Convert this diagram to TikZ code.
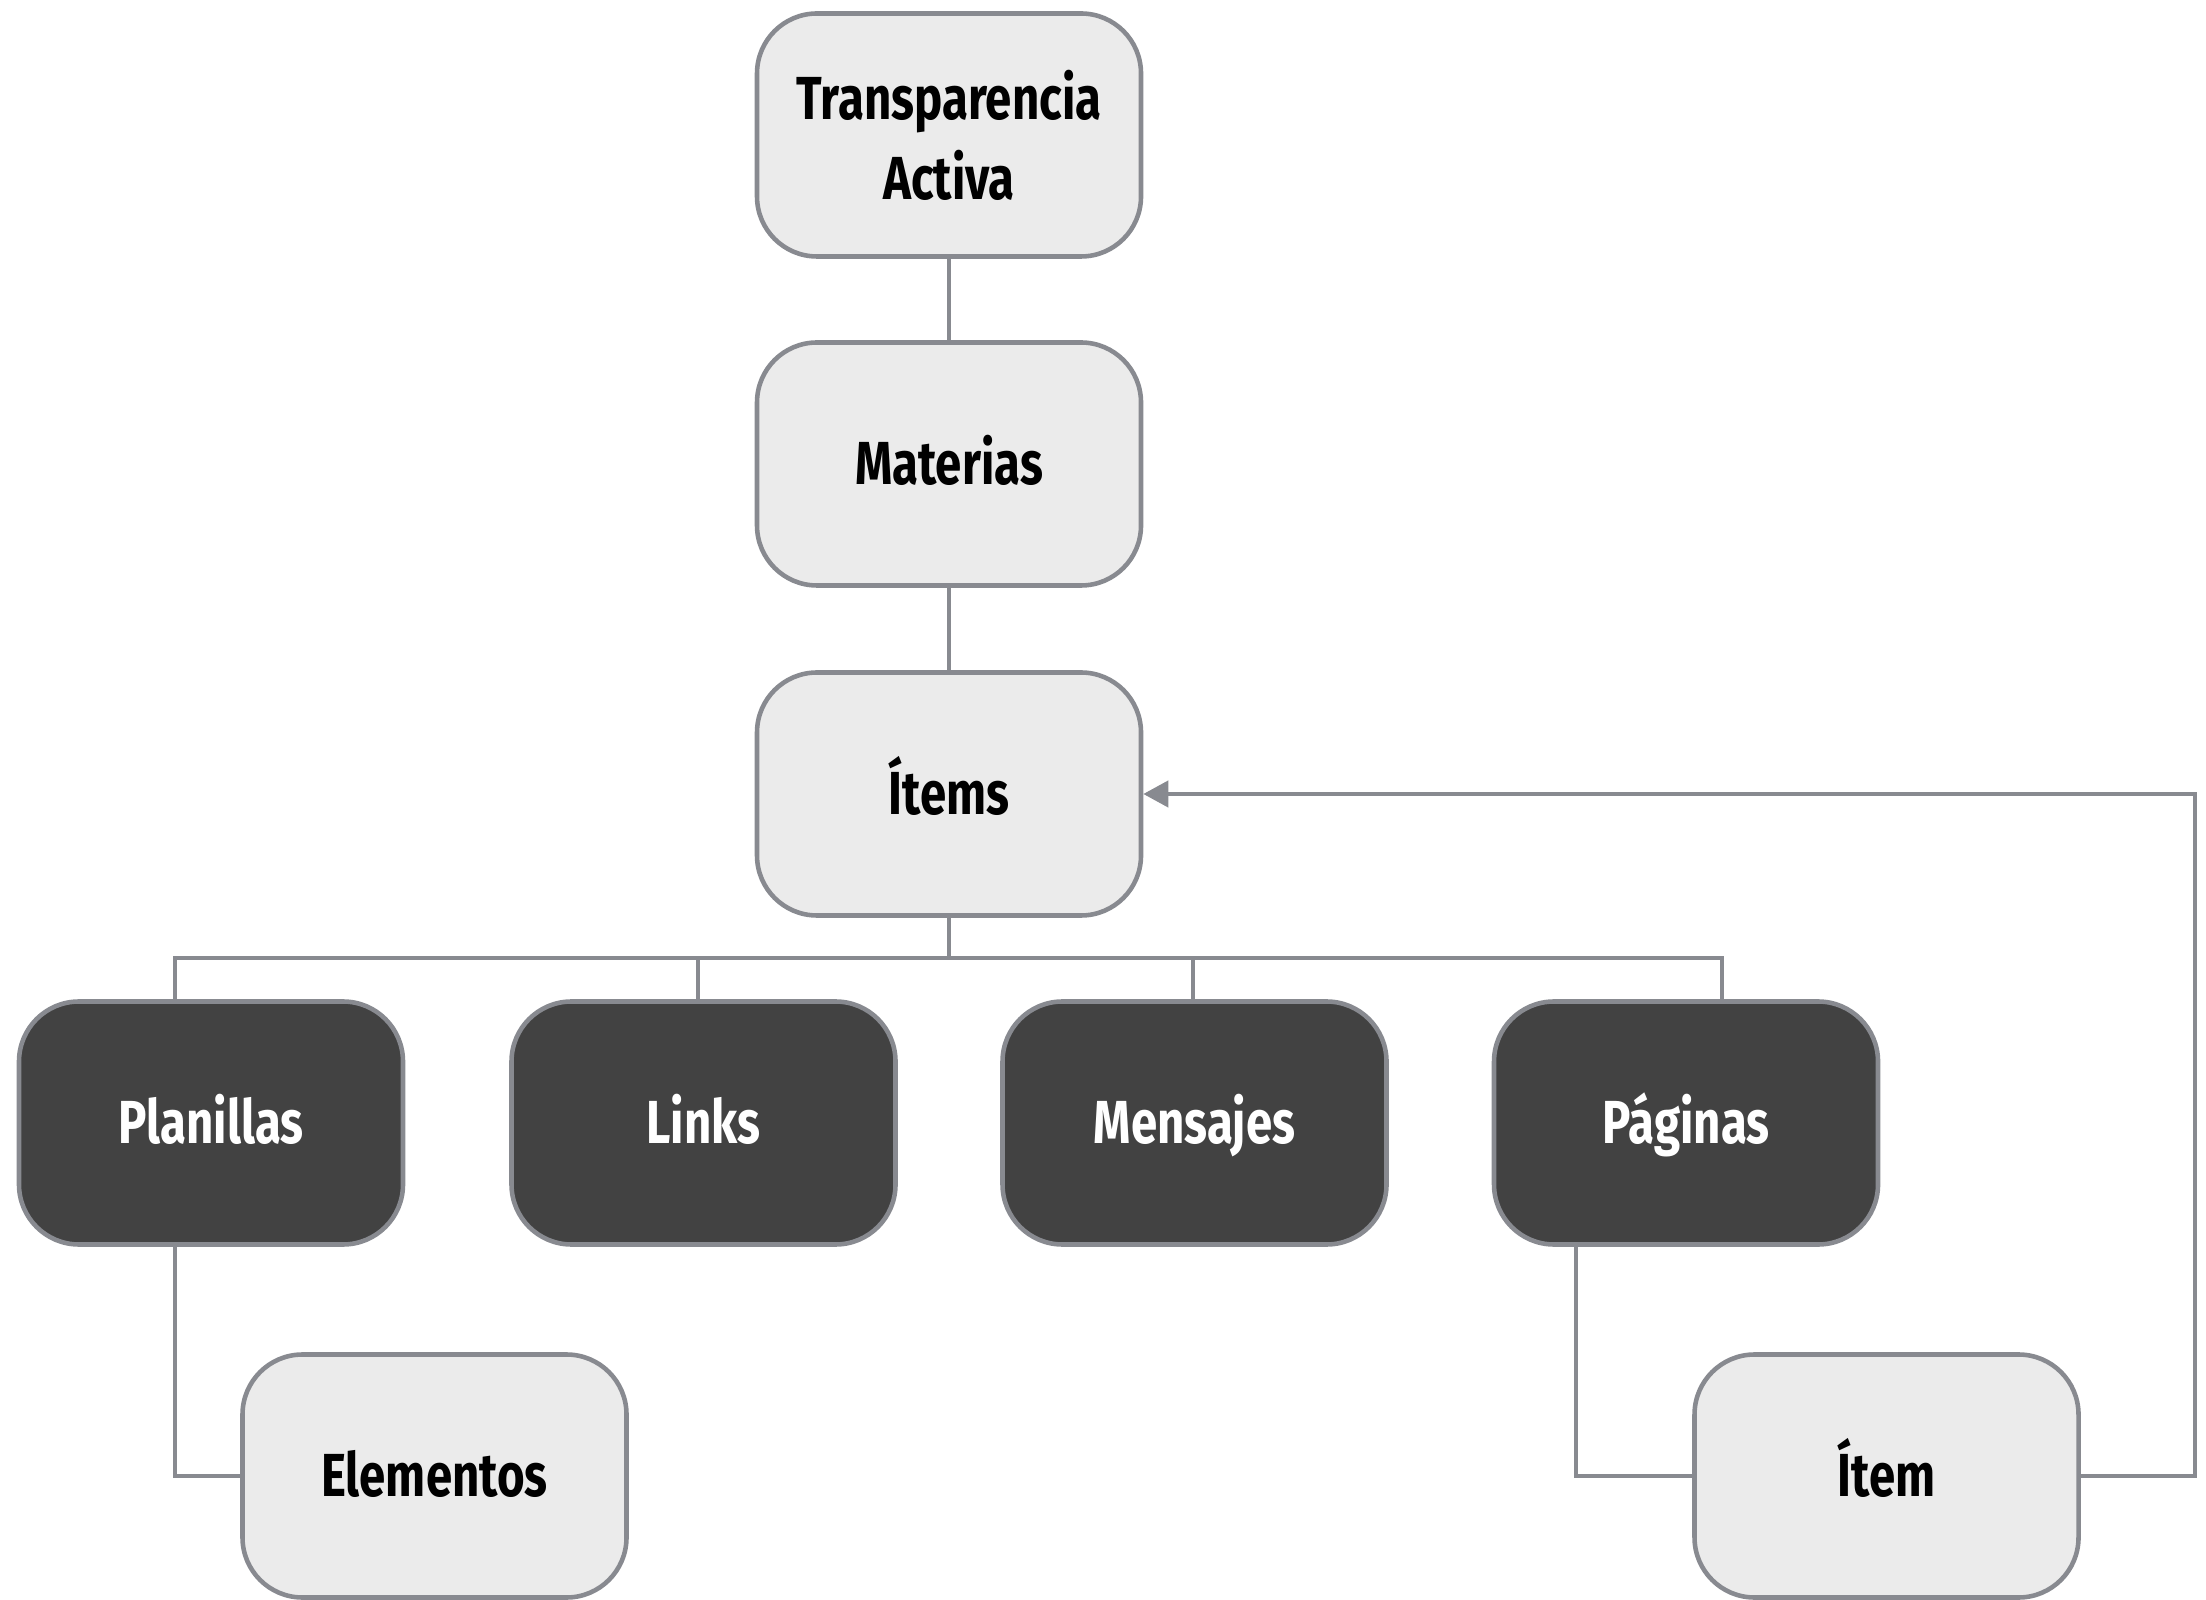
\documentclass[tikz,border=0pt]{standalone}
\usepackage{fontspec}
\setmainfont{Fira Sans}[FakeStretch=0.78]
\usetikzlibrary{arrows.meta}

\definecolor{linegray}{HTML}{888A90}
\definecolor{lightbox}{HTML}{EBEBEB}
\definecolor{darkbox}{HTML}{424242}

\begin{document}
\begin{tikzpicture}[
lightnode/.style={draw=linegray,line width=1.3pt,fill=lightbox,rounded corners=0.6cm,
  minimum width=3.84cm,minimum height=2.43cm,align=center,
  font=\fontsize{17.3}{22.7}\selectfont\bfseries,text=black},
darknode/.style={lightnode,fill=darkbox,text=white},
oneline/.style={text height=11.9pt,text depth=0pt},
link/.style={linegray,line width=1.2pt},
back/.style={link,-{Triangle[length=0.25cm,width=0.26cm]}}]

\useasboundingbox (0,0) rectangle (22.06,15.99);

\node[lightnode] (top) at (9.49,14.64) {Transparencia\\Activa};
\node[lightnode,oneline] (mat) at (9.49,11.35) {Materias};
\node[lightnode,oneline] (items) at (9.49,8.05) {Ítems};

\node[darknode,oneline] (pla) at (2.11,4.76) {Planillas};
\node[darknode,oneline] (links) at (7.035,4.76) {Links};
\node[darknode,oneline] (mens) at (11.945,4.76) {Mensajes};
\node[darknode,oneline] (pag) at (16.86,4.76) {Páginas};

\node[lightnode,oneline] (elem) at (4.345,1.23) {Elementos};
\node[lightnode,oneline] (item) at (18.865,1.23) {Ítem};

\draw[link] (top) -- (mat);
\draw[link] (mat) -- (items);

% bus below the items
\draw[link] (items.south) -- (items.south |- 0,6.41);
\draw[link] (1.75,0 |- pla.north) -- (1.75,6.41) -- (17.22,6.41) -- (17.22,0 |- pag.north);
\draw[link] (6.98,6.41) -- (6.98,0 |- links.north);
\draw[link] (11.93,6.41) -- (11.93,0 |- mens.north);

\draw[link] (1.75,0 |- pla.south) |- (elem.west);
\draw[link] (15.76,0 |- pag.south) |- (item.west);

\draw[back] (item.east) -- (21.95,0 |- item.east) |- (items.east);

\end{tikzpicture}
\end{document}
